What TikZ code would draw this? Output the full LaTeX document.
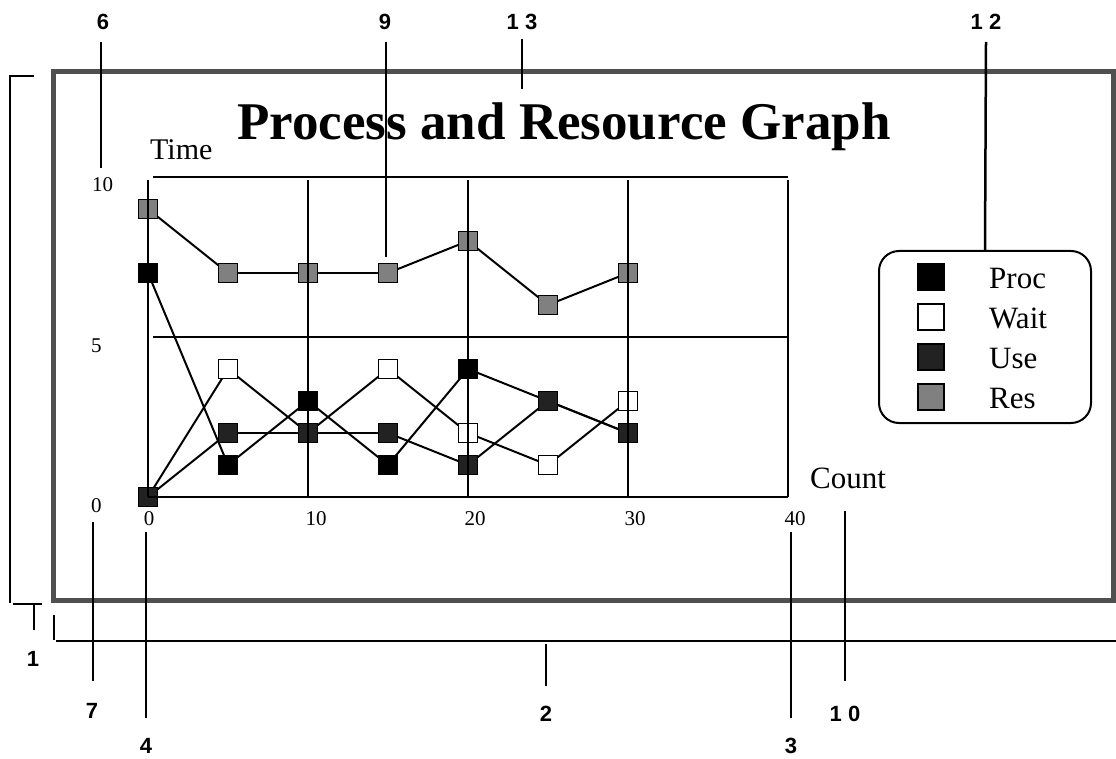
\documentclass[tikz,border=0pt]{standalone}
\usepackage{fontspec}
\setmainfont{Liberation Serif}
\newfontfamily\callfont{Liberation Sans}
\usetikzlibrary{backgrounds}

\definecolor{usecol}{HTML}{222222}
\definecolor{rescol}{HTML}{808080}
\definecolor{framecol}{HTML}{505050}

\tikzset{
  markbox/.style={draw, line width=1.5pt, minimum size=19pt, inner sep=0pt, outer sep=0pt},
  procmark/.style={markbox, fill=black},
  waitmark/.style={markbox, fill=white},
  usemark/.style={markbox, fill=usecol},
  resmark/.style={markbox, fill=rescol},
  gridline/.style={line width=2pt},
  callout/.style={line width=2.5pt},
  calllabel/.style={font=\callfont\bfseries\fontsize{22}{22}\selectfont, inner sep=0pt},
  ticklabel/.style={font=\fontsize{21}{21}\selectfont, inner sep=0pt, anchor=base},
  keylabel/.style={font=\fontsize{31}{31}\selectfont, inner sep=0pt, anchor=base west},
}

\begin{document}
\begin{tikzpicture}[x=1pt, y=-1pt]
\useasboundingbox (0,0) rectangle (1116,759);
% frame and title
\draw[framecol, line width=5pt] (53,72) rectangle (1113,600);
\node[font=\bfseries\fontsize{53}{60}\selectfont, inner sep=0pt, anchor=base] (title) at (564,140) {Process and Resource Graph};
\node[keylabel, font=\fontsize{30}{30}\selectfont] (time) at (150,160) {Time};
\node[keylabel, font=\fontsize{31}{31}\selectfont] (count) at (810,488) {Count};
% tick labels
\node[ticklabel, anchor=base west] (ty10) at (92,192) {10};
\node[ticklabel, anchor=base west] (ty5) at (91,352) {5};
\node[ticklabel, anchor=base west] (ty0) at (91,512) {0};
\foreach \v/\x in {0/149,10/316,20/475,30/635,40/795}
  \node[ticklabel] (tx\v) at (\x,525) {\v};

% plot, data units
\begin{scope}[shift={(148,497)}, x=16pt, y=32pt]
\foreach \y [count=\i from 0] in {7,1,3,1,4,3,2}
  \node[procmark] (p\i) at (5*\i,\y) {};
\foreach \y [count=\i from 0] in {0,4,2,4,2,1,3}
  \node[waitmark] (w\i) at (5*\i,\y) {};
\foreach \y [count=\i from 0] in {0,2,2,2,1,3,2}
  \node[usemark] (u\i) at (5*\i,\y) {};
\foreach \y [count=\i from 0] in {9,7,7,7,8,6,7}
  \node[resmark] (r\i) at (5*\i,\y) {};
\begin{pgfonlayer}{background}
\foreach \s in {p,w,u,r}
  \foreach \a/\b in {0/1,1/2,2/3,3/4,4/5,5/6}
    \draw[line width=2pt] (\s\a) -- (\s\b);
\end{pgfonlayer}
% grid
\foreach \x in {0,10,...,40}
  \draw[gridline] (\x,9.9) -- (\x,0);
\draw[gridline] (0.3,10) -- (40,10);
\draw[gridline] (0.3,5) -- (40,5);
\draw[gridline] (0,0) -- (40,0);
\end{scope}

% legend
\node[draw, line width=2pt, rounded corners=20pt, minimum width=212pt, minimum height=172pt] (legend) at (985,337) {};
\foreach \s/\t [count=\i from 0] in {procmark/Proc, waitmark/Wait, usemark/Use, resmark/Res} {
  \node[\s, minimum size=26pt] (key\i) at (931,277+40*\i) {};
  \node[keylabel] (txt\i) at (989,288+40*\i) {\t};
}

% callouts
\node[calllabel] (l6) at (103,22) {6};
\node[calllabel] (l9) at (385,22) {9};
\node[calllabel] (l13) at (522,22) {1 3};
\node[calllabel] (l12) at (986,22) {1 2};
\node[calllabel] (l7) at (92,711) {7};
\node[calllabel] (l4) at (146,746) {4};
\node[calllabel] (l3) at (791,746) {3};
\node[calllabel] (l10) at (845,714) {1 0};
\node[calllabel] (l1) at (33,659) {1};
\node[calllabel] (l2) at (546,714) {2};
\foreach \n/\x/\ya/\yb in {6/101/42/168, 9/386/42/257, 13/522/39/89, 7/93/522/681, 4/146/532/718, 3/791/532/718, 10/845/511/681, 2/546/644/686}
  \draw[callout] (\x,\ya) coordinate (top\n) -- (\x,\yb) coordinate (end\n);
\draw[callout] (986,42) coordinate (top12) -- (legend.north);
% brackets
\draw[callout] (34,76) coordinate (br1a) -- (10,76) -- (10,603) coordinate (br1b);
\draw[callout] (13,604) coordinate (tee1a) -- (42,604) coordinate (tee1b);
\draw[callout] (34,604) coordinate (top1) -- (34,630) coordinate (end1);
\draw[callout] (54,615) coordinate (br2a) -- (54,640) coordinate (br2b);
\draw[callout] (56,641) coordinate (br2c) -- (1116,641) coordinate (br2d);
\end{tikzpicture}
\end{document}
